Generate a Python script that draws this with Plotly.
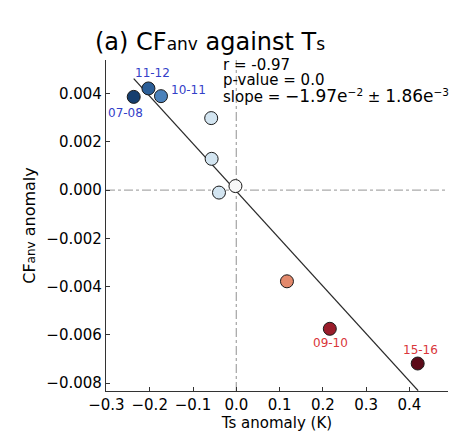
import numpy as np
import plotly.graph_objects as go

# ---- data ----
ts_anom = [-0.237, -0.203, -0.174, -0.058, -0.057, -0.040, -0.002, 0.117, 0.216, 0.419]
cf_anom = [0.00387, 0.00422, 0.00390, 0.00299, 0.00130, -0.00010, 0.00017, -0.00378, -0.00575, -0.00719]
point_colors = ["#163e6e", "#2b5e97", "#4b82bb", "#d3e5f1", "#d3e5f1", "#d3e5f1",
                "#f7f7f7", "#e3896c", "#9a1d2b", "#5c0b19"]
labels = ["07-08", "11-12", "10-11", "", "", "", "", "", "09-10", "15-16"]
label_shift = [(-8, -16), (4, 15), (28, 6), None, None, None, None, None, (1, -14), (3, 14)]
label_colors = {"07-08": "#3340c8", "11-12": "#3340c8", "10-11": "#3340c8",
                "09-10": "#d9363a", "15-16": "#d9363a"}
slope = -0.0197
intercept = -0.00004
line_x = [-0.237, 0.42]

x_ticks = [-0.3, -0.2, -0.1, 0.0, 0.1, 0.2, 0.3, 0.4]
y_ticks = [-0.008, -0.006, -0.004, -0.002, 0.0, 0.002, 0.004]

FONT = "DejaVu Sans"

# plot area in pixels (for placing free text)
L, R, T, B = 106, 448, 60, 390.7
def px(xp):
    return (xp - L) / (R - L)
def py(yp):
    return (B - yp) / (B - T)

fig = go.Figure()

lx = np.array(line_x)
fig.add_trace(go.Scatter(x=lx, y=intercept + slope * lx, mode="lines",
                         line=dict(color="#2a2a2a", width=1.3), hoverinfo="skip",
                         showlegend=False))

fig.add_trace(go.Scatter(x=ts_anom, y=cf_anom, mode="markers",
                         marker=dict(size=13, color=point_colors,
                                     line=dict(color="#1a1a1a", width=1)),
                         showlegend=False))

annotations = []
for xv, yv, lab, sh in zip(ts_anom, cf_anom, labels, label_shift):
    if lab and sh:
        annotations.append(dict(x=xv, y=yv, xref="x", yref="y", text=lab,
                                showarrow=False, xshift=sh[0], yshift=sh[1],
                                font=dict(family=FONT, size=12, color=label_colors[lab])))

# stats text
stat_lines = [
    "r = -0.97",
    "p-value = 0.0",
    "slope = <span style='font-size:17px'>−1.97e</span><sup>−2</sup> ± "
    "<span style='font-size:17px'>1.86e</span><sup>−3</sup>",
]
stat_y = [65, 80, 96]
for t, yy in zip(stat_lines, stat_y):
    annotations.append(dict(x=px(221), y=py(yy), xref="paper", yref="paper", text=t,
                            showarrow=False, xanchor="left", yanchor="middle",
                            font=dict(family=FONT, size=15, color="black")))

# title
annotations.append(dict(x=px(210), y=py(42), xref="paper", yref="paper",
                        text="(a) CF<span style='font-size:17px'>anv</span> against T<span style='font-size:17px'>s</span>",
                        showarrow=False, xanchor="center", yanchor="middle",
                        font=dict(family=FONT, size=24, color="black")))

fig.update_layout(
    width=453, height=434,
    margin=dict(l=L, r=453 - R, t=T, b=434 - B),
    paper_bgcolor="white", plot_bgcolor="white",
    font=dict(family=FONT, size=15, color="black"),
    annotations=annotations,
    shapes=[
        dict(type="line", xref="x", yref="paper", x0=0, x1=0, y0=0, y1=1,
             line=dict(color="#aaaaaa", width=1.3, dash="dashdot"), layer="below"),
        dict(type="line", xref="paper", yref="y", x0=0, x1=1, y0=0, y1=0,
             line=dict(color="#aaaaaa", width=1.3, dash="dashdot"), layer="below"),
    ],
)

fig.update_xaxes(range=[-0.301, 0.489], tickvals=x_ticks,
                 ticktext=[f"{v:.1f}".replace("-", "−") for v in x_ticks],
                 showgrid=False, zeroline=False, showline=True, linecolor="#333",
                 linewidth=1.3, ticks="inside", ticklen=4, tickcolor="#333",
                 tickfont=dict(family=FONT, size=15, color="black"),
                 title=dict(text="Ts anomaly (K)", font=dict(family=FONT, size=15), standoff=4))
fig.update_yaxes(range=[-0.00833, 0.0054], tickvals=y_ticks,
                 ticktext=[f"{v:.3f}".replace("-", "−") for v in y_ticks],
                 showgrid=False, zeroline=False, showline=True, linecolor="#333",
                 linewidth=1.3, ticks="inside", ticklen=4, tickcolor="#333",
                 tickfont=dict(family=FONT, size=15, color="black"),
                 title=dict(text="CF<span style='font-size:12px'>anv</span> anomaly",
                            font=dict(family=FONT, size=16), standoff=6))

fig.write_html("out.html")
